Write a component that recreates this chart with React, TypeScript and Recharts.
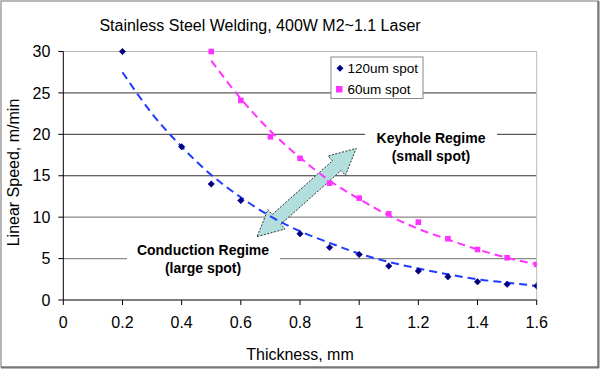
import React from 'react';
import { ComposedChart, Line, XAxis, YAxis, ReferenceLine } from 'recharts';

// ---- data ----
const thickness120 = [0.2, 0.4, 0.5, 0.6, 0.8, 0.9, 1.0, 1.1, 1.2, 1.3, 1.4, 1.5, 1.6];
const speed120 = [30, 18.5, 14, 12, 8, 6.35, 5.5, 4.1, 3.5, 2.8, 2.2, 1.9, 1.7];
const thickness60 = [0.5, 0.6, 0.7, 0.8, 0.9, 1.0, 1.1, 1.2, 1.3, 1.4, 1.5, 1.6];
const speed60 = [30, 24.1, 19.7, 17.1, 14.1, 12.3, 10.4, 9.4, 7.4, 6.1, 5.1, 4.3];
const trendX120 = [0.2, 0.3, 0.4, 0.5, 0.6, 0.7, 0.8, 0.9, 1.0, 1.1, 1.2, 1.3, 1.4, 1.5, 1.6];
const trend120 = [27.5, 22.5, 18.5, 15.1, 12.4, 10.1, 8.3, 6.9, 5.6, 4.6, 3.8, 3.1, 2.5, 2.1, 1.7];
const trendX60 = [0.5, 0.6, 0.7, 0.8, 0.9, 1.0, 1.1, 1.2, 1.3, 1.4, 1.5, 1.6];
const trend60 = [28.9, 24.3, 20.4, 17.2, 14.4, 12.2, 10.2, 8.6, 7.3, 6.1, 5.1, 4.3];
const xTicks = [0, 0.2, 0.4, 0.6, 0.8, 1.0, 1.2, 1.4, 1.6];
const yTicks = [0, 5, 10, 15, 20, 25, 30];
const darkGridValues = [15, 20, 25];
const lightGridValues = [5, 10];
const arrowStart = { x: 0.655, y: 7.65 };
const arrowEnd = { x: 0.99, y: 18.3 };

const seriesNames = ['120um spot', '60um spot'];
const title = 'Stainless Steel Welding, 400W M2~1.1 Laser';
const xLabel = 'Thickness, mm';
const yLabel = 'Linear Speed, m/min';
const keyholeLines = ['Keyhole Regime', '(small spot)'];
const conductionLines = ['Conduction Regime', '(large spot)'];

const toRows = (xs: number[], ys: number[]) => xs.map((x, i) => ({ x, y: ys[i] }));

const FONT = '"Liberation Sans", Arial, sans-serif';
const NAVY = '#000080';
const BLUE = '#1f3cff';
const PINK = '#ff33ff';

const Diamond = (props: any) => {
  const { cx, cy, index } = props;
  if (cx == null || cy == null) return <g key={index} />;
  const r = 3.2;
  return <path key={index} d={`M${cx},${cy - r}L${cx + r},${cy}L${cx},${cy + r}L${cx - r},${cy}Z`} fill={NAVY} stroke={NAVY} strokeWidth={0.6} />;
};
const Square = (props: any) => {
  const { cx, cy, index } = props;
  if (cx == null || cy == null) return <g key={index} />;
  const h = 2.8;
  return <rect key={index} x={cx - h} y={cy - h} width={2 * h} height={2 * h} fill={PINK} />;
};

const ArrowShape = (props: any) => {
  const { x1, y1, x2, y2 } = props;
  if ([x1, y1, x2, y2].some((v) => v == null || isNaN(v))) return <g />;
  const dx = x2 - x1, dy = y2 - y1;
  const L = Math.hypot(dx, dy);
  const ux = dx / L, uy = dy / L;
  const px = -uy, py = ux;
  const hl = 26, hw = 13, sw = 6.5;
  const pt = (a: number, b: number) => `${x1 + ux * a + px * b},${y1 + uy * a + py * b}`;
  const pts = [pt(0, 0), pt(hl, hw), pt(hl, sw), pt(L - hl, sw), pt(L - hl, hw), pt(L, 0), pt(L - hl, -hw), pt(L - hl, -sw), pt(hl, -sw), pt(hl, -hw)];
  return <polygon points={pts.join(' ')} fill="#b2dede" stroke="#333" strokeWidth={1} strokeDasharray="2 1.5" />;
};

export default function App() {
  const tickStyle = { fontSize: 16, fill: '#000', fontFamily: FONT };
  return (
    <div style={{ position: 'absolute', left: 0, top: 0, width: 600, height: 369, background: '#fff', fontFamily: FONT }}>
      <ComposedChart width={600} height={369} margin={{ top: 51.5, right: 63.3, left: 0, bottom: 39 }}>
        <XAxis
          dataKey="x"
          type="number"
          domain={[0, 1.6]}
          ticks={xTicks}
          tickFormatter={(v: number) => String(Math.round(v * 10) / 10)}
          allowDataOverflow
          height={30}
          tick={tickStyle}
          tickSize={5}
          tickMargin={12}
          axisLine={{ stroke: '#000' }}
          tickLine={{ stroke: '#000' }}
        />
        <YAxis
          type="number"
          domain={[0, 30]}
          ticks={yTicks}
          width={63.3}
          tick={tickStyle}
          tickSize={5}
          tickMargin={8}
          axisLine={{ stroke: '#000' }}
          tickLine={{ stroke: '#000' }}
        />
        {darkGridValues.map((v) => (
          <ReferenceLine key={'g' + v} y={v} stroke="#333" strokeWidth={1} />
        ))}
        {lightGridValues.map((v) => (
          <ReferenceLine key={'l' + v} y={v} stroke="#8a8a8a" strokeWidth={1.3} />
        ))}
        <ReferenceLine y={30} stroke="#bbb" strokeWidth={1} />
        <ReferenceLine x={1.6} stroke="#bbb" strokeWidth={1} />
        <ReferenceLine segment={[arrowStart, arrowEnd]} shape={ArrowShape} ifOverflow="visible" />
        <Line data={toRows(trendX120, trend120)} dataKey="y" type="monotone" stroke={BLUE} strokeWidth={2} strokeDasharray="8 5" dot={false} isAnimationActive={false} />
        <Line data={toRows(trendX60, trend60)} dataKey="y" type="monotone" stroke={PINK} strokeWidth={2} strokeDasharray="8 5" dot={false} isAnimationActive={false} />
        <Line data={toRows(thickness120, speed120)} dataKey="y" name={seriesNames[0]} stroke="none" dot={Diamond} isAnimationActive={false} />
        <Line data={toRows(thickness60, speed60)} dataKey="y" name={seriesNames[1]} stroke="none" dot={Square} isAnimationActive={false} />
      </ComposedChart>
      <svg width={600} height={369} style={{ position: 'absolute', left: 0, top: 0, pointerEvents: 'none' }} fontFamily={FONT}>
        <rect x={1} y={1} width={597} height={366} fill="none" stroke="#a0a0a0" strokeWidth={1.5} />
        <line x1={598.5} y1={1} x2={598.5} y2={368} stroke="#777" strokeWidth={2} />
        <line x1={1} y1={367.5} x2={599} y2={367.5} stroke="#777" strokeWidth={2} />
        <text x={260} y={31} textAnchor="middle" fontSize={16} fill="#000">{title}</text>
        <text x={300} y={360} textAnchor="middle" fontSize={16} fill="#000">{xLabel}</text>
        <text x={19} y={172.5} transform="rotate(-90, 19, 172.5)" textAnchor="middle" fontSize={16} fill="#000">{yLabel}</text>
        {/* legend */}
        <rect x={331} y={57} width={92} height={41.5} fill="#fff" stroke="#888" strokeWidth={1} />
        <path d="M340,64.8L343.5,68.3L340,71.8L336.5,68.3Z" fill={NAVY} />
        <text x={347.5} y={73} fontSize={13.5} fill="#000">{seriesNames[0]}</text>
        <rect x={336} y={86} width={6.5} height={6.5} fill={PINK} />
        <text x={347.5} y={94} fontSize={13.5} fill="#000">{seriesNames[1]}</text>
        {/* annotations */}
        <rect x={365} y={126} width={132} height={40} fill="#fff" />
        <text x={431} y={142.5} textAnchor="middle" fontSize={14} fontWeight="bold" fill="#000">{keyholeLines[0]}</text>
        <text x={431} y={161} textAnchor="middle" fontSize={14} fontWeight="bold" fill="#000">{keyholeLines[1]}</text>
        <rect x={127} y={241} width={153} height={35} fill="#fff" />
        <text x={203} y={255} textAnchor="middle" fontSize={14} fontWeight="bold" fill="#000">{conductionLines[0]}</text>
        <text x={203} y={273} textAnchor="middle" fontSize={14} fontWeight="bold" fill="#000">{conductionLines[1]}</text>
      </svg>
    </div>
  );
}
